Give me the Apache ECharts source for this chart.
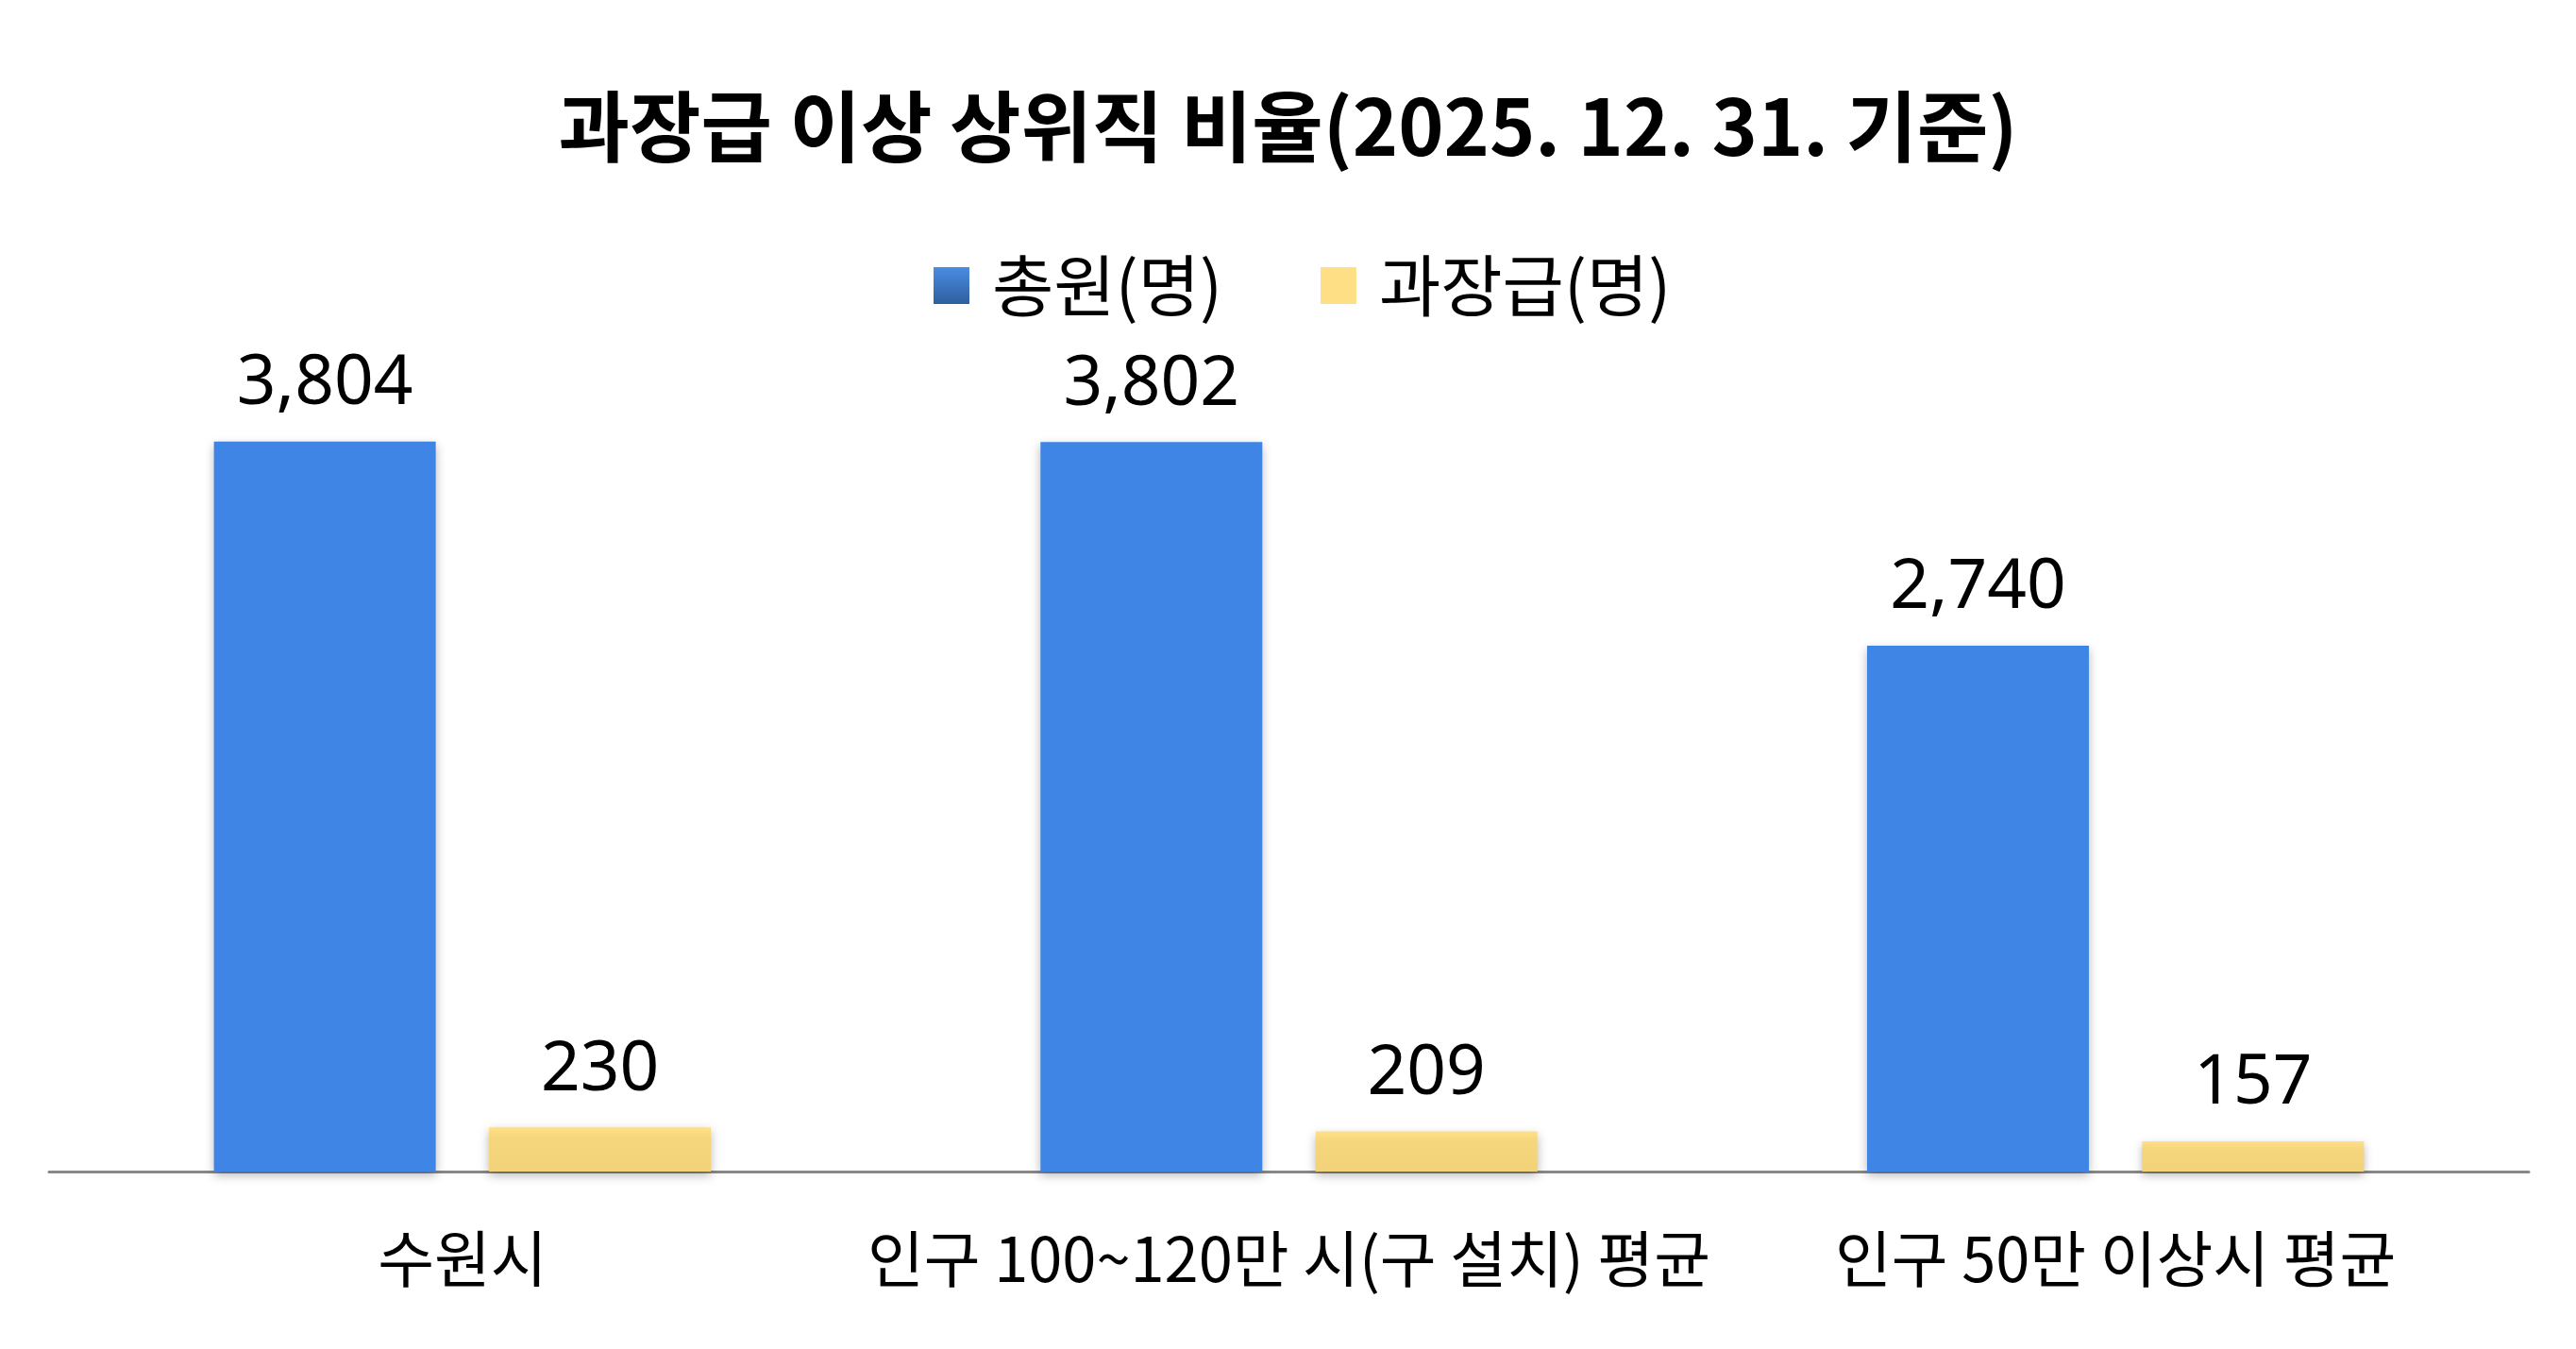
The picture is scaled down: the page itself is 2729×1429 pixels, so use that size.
<!DOCTYPE html>
<html>
<head>
<meta charset="utf-8">
<script src="https://cdn.jsdelivr.net/npm/echarts@6/dist/echarts.min.js"></script>
<style>
html, body { margin: 0; padding: 0; background: #fff; }
#chart { width: 2729px; height: 1429px; }
</style>
</head>
<body>
<div id="chart"></div>
<script>
var chart = echarts.init(document.getElementById('chart'));

var titleText = '과장급 이상 상위직 비율(2025. 12. 31. 기준)';
var categories = ['수원시', '인구 100~120만 시(구 설치) 평균', '인구 50만 이상시 평균'];
var seriesNames = ['총원(명)', '과장급(명)'];
var totalStaff = [3804, 3802, 2740];
var managerStaff = [230, 209, 157];

var kr = 'Noto Sans CJK KR';

function fmt(p) {
    return p.value.toLocaleString('en-US');
}

var labelStyle = {
    show: true,
    position: 'top',
    distance: 24,
    formatter: fmt,
    color: '#000',
    fontSize: 73,
    fontFamily: 'Noto Sans'
};

var shadow = {
    shadowBlur: 10,
    shadowColor: 'rgba(0,0,0,0.28)',
    shadowOffsetY: 4
};

var option = {
    backgroundColor: '#fff',
    animation: false,
    title: {
        text: titleText,
        left: 'center',
        top: 88,
        textStyle: {
            fontFamily: kr,
            fontWeight: 'bold',
            fontSize: 82,
            color: '#000'
        }
    },
    legend: {
        left: 984,
        top: 262,
        icon: 'rect',
        itemWidth: 38,
        itemHeight: 39,
        itemGap: 104,
        textStyle: {
            fontFamily: kr,
            fontSize: 71,
            color: '#000',
            padding: [0, 0, 0, 19]
        },
        data: [
            {
                name: seriesNames[0],
                itemStyle: {
                    color: new echarts.graphic.LinearGradient(0, 0, 0, 1, [
                        { offset: 0, color: '#4A8DE3' },
                        { offset: 1, color: '#2E5E9E' }
                    ])
                }
            },
            {
                name: seriesNames[1],
                itemStyle: { color: '#FFDF86' }
            }
        ]
    },
    grid: {
        left: 52,
        right: 50,
        top: 428,
        bottom: 188
    },
    xAxis: {
        type: 'category',
        data: categories,
        axisLine: { lineStyle: { color: '#888888', width: 3 } },
        axisTick: { show: false },
        axisLabel: {
            interval: 0,
            margin: 60,
            fontFamily: kr,
            fontSize: 65,
            color: '#000'
        }
    },
    yAxis: {
        type: 'value',
        min: 0,
        max: 4000,
        show: false,
        splitLine: { show: false }
    },
    series: [
        {
            name: seriesNames[0],
            type: 'bar',
            data: totalStaff,
            barWidth: 235,
            barGap: '24%',
            itemStyle: Object.assign({ color: '#3E85E5' }, shadow),
            label: labelStyle
        },
        {
            name: seriesNames[1],
            type: 'bar',
            data: managerStaff,
            barWidth: 235,
            itemStyle: Object.assign({
                color: new echarts.graphic.LinearGradient(0, 0, 0, 1, [
                    { offset: 0, color: '#FFE087' },
                    { offset: 0.25, color: '#F5D67C' },
                    { offset: 1, color: '#F3D37A' }
                ])
            }, shadow),
            label: labelStyle
        }
    ]
};

chart.setOption(option);
</script>
</body>
</html>
